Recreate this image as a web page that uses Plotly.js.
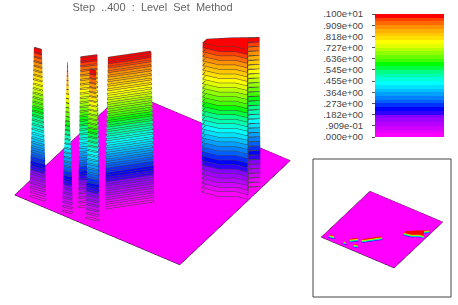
<!DOCTYPE html>
<html><head><meta charset="utf-8">
<script src="https://cdn.plot.ly/plotly-3.0.1.min.js"></script>
<style>html,body{margin:0;padding:0;background:#fff}#c{width:458px;height:305px}</style>
</head><body><div id="c"></div>
<script>
// 33 colour bands, bottom to top
const bandColors = ['#ff00ff','#e800ff','#d000ff','#b800ff','#a000ff','#8800ff','#3000ff','#0000ff','#0030ff','#0060ff','#0080ff','#00a0ff','#00c0ff','#00e0ff','#00ffff','#00ffd8','#00ffb0','#00ff88','#00ff40','#00ff00','#40ff00','#68ff00','#90ff00','#b8ff00','#e0ff00','#ffff00','#ffe000','#ffc800','#ffb000','#ff9000','#ff6800','#ff4000','#ff0000'];
const tickValues = [0,0.0909,0.182,0.273,0.364,0.455,0.545,0.636,0.727,0.818,0.909,1];
const tickLabels = ['.000e+00','.909e-01','.182e+00','.273e+00','.364e+00','.455e+00','.545e+00','.636e+00','.727e+00','.818e+00','.909e+00','.100e+01'];
// wall footprints on the unit plate (x, y), and how much each narrows at the top
const wallA = [[.069,.031],[.151,.043],[.151,.060],[.069,.048]];
const wallB = [[.270,.025],[.320,.035],[.320,.050],[.270,.040]];
const wallC = [[.325,.095],[.400,.170],[.390,.180],[.315,.105]];
const wallD = [[.400,.045],[.465,.060],[.465,.075],[.400,.060]];
const wallE = [[.443,.163],[.614,.346],[.600,.356],[.430,.175]];
const wallF = [[.770,.542],[.859,.563],[.929,.610],[.993,.624],[.944,.705],[.990,.745],[.870,.660],[.770,.580]];
const walls = [wallA,wallB,wallC,wallD,wallE,wallF];
const topNarrow = [.47,.05,.8,.45,.88,.97];
const plateX = [0,1], plateY = [0,1];

const n = bandColors.length;
const colorscale = [];
bandColors.forEach((c,i)=>{colorscale.push([i/n,c]);colorscale.push([(i+1)/n,c]);});
const levels = Array.from({length:n+1},(_,i)=>i/n);

function wallTrace(poly,narrow,scene){
  const cx = poly.reduce((s,p)=>s+p[0],0)/poly.length, cy = poly.reduce((s,p)=>s+p[1],0)/poly.length;
  const ring = poly.concat([poly[0]]);
  const X=[],Y=[],Z=[];
  levels.forEach(l=>{
    const f = 1-(1-narrow)*l;
    X.push(ring.map(p=>cx+(p[0]-cx)*f));
    Y.push(ring.map(p=>cy+(p[1]-cy)*f));
    Z.push(ring.map(()=>l));
  });
  X.push(ring.map(()=>cx));Y.push(ring.map(()=>cy));Z.push(ring.map(()=>1));
  return {type:'surface',x:X,y:Y,z:Z,scene,colorscale,cmin:0,cmax:1,showscale:false,hoverinfo:'skip',
    lighting:{ambient:1,diffuse:0,specular:0,fresnel:0,roughness:1},
    contours:{z:{show:scene==='scene',start:0,end:1,size:1/n,color:'#444',width:1,highlight:false},x:{highlight:false},y:{highlight:false}}};
}
function plateTraces(scene){
  return [{type:'surface',x:plateX,y:plateY,z:[[0,0],[0,0]],scene,colorscale,cmin:0,cmax:1,showscale:false,hoverinfo:'skip',
    lighting:{ambient:1,diffuse:0,specular:0,fresnel:0},contours:{x:{highlight:false},y:{highlight:false},z:{highlight:false}}},
   {type:'scatter3d',mode:'lines',x:[0,1,1,0,0],y:[0,0,1,1,0],z:[0,0,0,0,0],scene,line:{color:'#111',width:1},hoverinfo:'skip',showlegend:false}];
}
const bar = {type:'heatmap',x:[0,1],y:levels.slice(0,n).map(l=>l+.5/n),z:levels.slice(0,n).map(l=>[l+.5/n,l+.5/n]),
  colorscale,zmin:0,zmax:1,showscale:false,hoverinfo:'skip',xaxis:'x',yaxis:'y'};
const data = [bar]
  .concat(plateTraces('scene'),walls.map((w,i)=>wallTrace(w,topNarrow[i],'scene')))
  .concat(plateTraces('scene2'),walls.map((w,i)=>wallTrace(w,topNarrow[i],'scene2')));
const hide = {visible:false,showgrid:false,zeroline:false,showspikes:false,range:[0,1]};
const eye = (k,cz)=>({x:.431*k,y:-.644*k,z:cz+.632*k});
const W=458,H=305, mainCz=-.418;
const layout = {
  width:W,height:H,margin:{l:0,r:0,t:0,b:0},paper_bgcolor:'#fff',plot_bgcolor:'#fff',showlegend:false,
  title:{text:'Step\u00a0 ..400\u00a0 :\u00a0 Level\u00a0 Set\u00a0 Method',x:152.5/W,xanchor:'center',y:1-7/H,yanchor:'middle',font:{family:'Liberation Sans',size:11,color:'#666'}},
  xaxis:{domain:[375/W,444/W],range:[0,1],visible:false,fixedrange:true},
  yaxis:{domain:[1-137/H,1-14/H],range:[0,1],anchor:'free',position:375/W,side:'left',tickmode:'array',tickvals:tickValues,ticktext:tickLabels,ticks:'outside',ticklen:3,tickcolor:'#555',ticklabelstandoff:7,tickfont:{family:'Liberation Sans',size:9.5,color:'#444'},showgrid:false,zeroline:false,showline:false,fixedrange:true},
  scene:{domain:{x:[0,305/W],y:[0,1]},aspectmode:'manual',aspectratio:{x:1.303,y:1.303,z:1.264},
    xaxis:hide,yaxis:hide,zaxis:hide,bgcolor:'rgba(0,0,0,0)',
    camera:{projection:{type:'orthographic'},up:{x:0,y:0,z:1},center:{x:0,y:0,z:mainCz},eye:eye(2,mainCz)}},
  scene2:{domain:{x:[313/W,451/W],y:[1-297/H,1-159/H]},aspectmode:'manual',aspectratio:{x:1.27,y:1.27,z:.06},
    xaxis:hide,yaxis:hide,zaxis:hide,bgcolor:'rgba(0,0,0,0)',
    camera:{projection:{type:'orthographic'},up:{x:0,y:0,z:1},center:{x:0,y:0,z:0},eye:eye(2,0)}},
  shapes:[{type:'rect',xref:'paper',yref:'paper',x0:313/W,x1:451/W,y0:1-297/H,y1:1-159/H,line:{color:'#444',width:1}}]
};
Plotly.newPlot('c',data,layout,{displayModeBar:false});
</script></body></html>
